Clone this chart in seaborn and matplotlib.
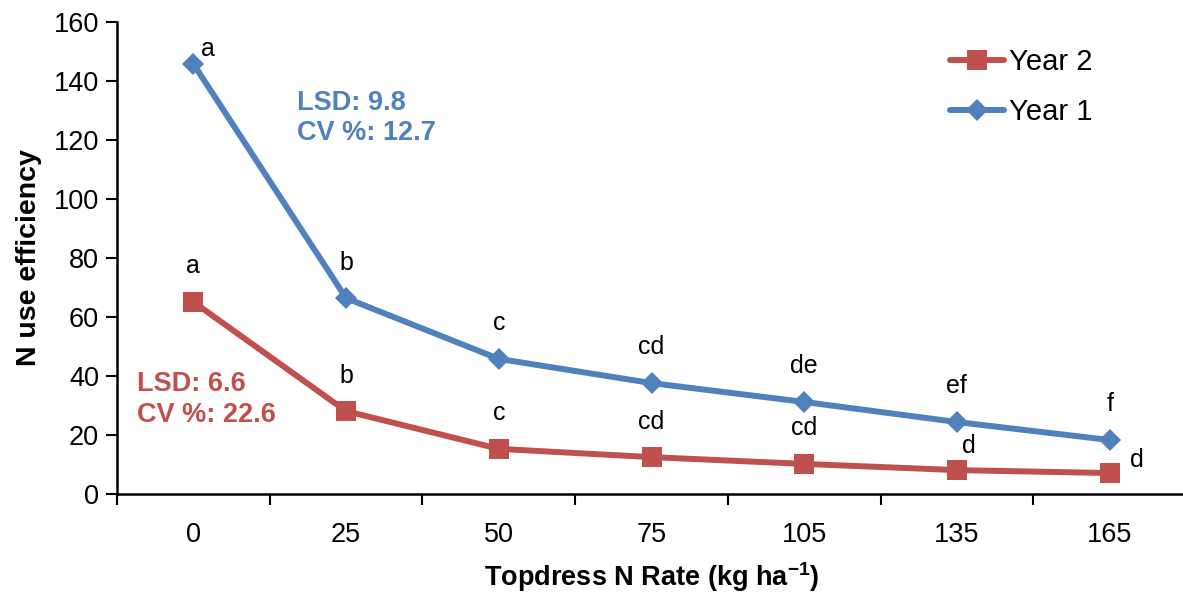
import matplotlib
matplotlib.use("Agg")
import matplotlib.pyplot as plt
import seaborn as sns
import pandas as pd
import numpy as np

rates = ["0", "25", "50", "75", "105", "135", "165"]
year1 = [145.8, 66.4, 45.8, 37.6, 31.2, 24.4, 18.3]
year2 = [65.1, 28.1, 15.3, 12.5, 10.2, 8.1, 7.1]
letters1 = ["a", "b", "c", "cd", "de", "ef", "f"]
letters2 = ["a", "b", "c", "cd", "cd", "d", "d"]

blue = "#4F81BD"
red = "#C0504D"

sns.set_style("white")
plt.rcParams['font.family'] = ['Liberation Sans', 'DejaVu Sans']
plt.rcParams['mathtext.fontset'] = 'custom'
plt.rcParams['mathtext.bf'] = 'Liberation Sans:bold'
plt.rcParams['mathtext.rm'] = 'Liberation Sans'
for k in ['text.color', 'axes.labelcolor', 'xtick.color', 'ytick.color']:
    plt.rcParams[k] = 'black'

df = pd.DataFrame({
    "rate": rates * 2,
    "nue": year2 + year1,
    "year": ["Year 2"] * 7 + ["Year 1"] * 7,
})
df["pos"] = list(range(7)) * 2

fig = plt.figure(figsize=(11.83, 5.92), dpi=100)
ax = fig.add_axes([117 / 1183, 98 / 592, 1069 / 1183, 472 / 592])

sns.lineplot(data=df, x="pos", y="nue", hue="year", style="year",
             hue_order=["Year 2", "Year 1"], style_order=["Year 2", "Year 1"],
             palette={"Year 2": red, "Year 1": blue},
             markers={"Year 2": "s", "Year 1": "D"}, dashes=False,
             linewidth=4.3, markersize=14, markeredgewidth=0, ax=ax)
for line in ax.lines:
    if line.get_marker() == "D":
        line.set_markersize(11.5)

ax.set_xlim(-0.5, 6.5)
ax.set_ylim(0, 160)
ax.set_yticks(np.arange(0, 161, 20))
ax.tick_params(axis="y", which="major", direction="out", length=8, width=1.5,
               labelsize=19.5, left=True, colors="black", pad=5)
ax.set_xticks(np.arange(-0.5, 6.6, 1.0))
ax.set_xticklabels([])
ax.set_xticks(np.arange(7), minor=True)
ax.set_xticklabels(rates, minor=True)
ax.tick_params(axis="x", which="major", direction="out", length=8, width=1.5,
               bottom=True, colors="black")
ax.tick_params(axis="x", which="minor", length=0, labelsize=19.5, pad=20,
               colors="black")

for s in ["top", "right"]:
    ax.spines[s].set_visible(False)
for s in ["left", "bottom"]:
    ax.spines[s].set_color("black")
    ax.spines[s].set_linewidth(1.8)

ax.set_ylabel("N use efficiency", fontsize=20.5, fontweight="bold", labelpad=8)
ax.set_xlabel("Topdress N Rate (kg ha$^{\\mathbf{-1}}$)", fontsize=19.5,
              fontweight="bold", labelpad=9)

fs = 18
for i, (v, t) in enumerate(zip(year1, letters1)):
    if i == 0:
        ax.text(i + 0.05, v + 1, t, fontsize=fs, ha="left", va="bottom")
    else:
        ax.text(i, v + 8, t, fontsize=fs, ha="center", va="bottom")
for i, (v, t) in enumerate(zip(year2, letters2)):
    if i == 5:
        ax.text(i + 0.08, v + 4, t, fontsize=fs, ha="center", va="bottom")
    elif i == 6:
        ax.text(i + 0.18, v + 0.5, t, fontsize=fs, ha="center", va="bottom")
    else:
        ax.text(i, v + 8, t, fontsize=fs, ha="center", va="bottom")

ax.text(0.68, 127.5, "LSD: 9.8\nCV %: 12.7", color=blue, fontsize=19.5,
        fontweight="bold", ha="left", va="center", linespacing=1.22)
ax.text(-0.37, 32, "LSD: 6.6\nCV %: 22.6", color=red, fontsize=19.5,
        fontweight="bold", ha="left", va="center", linespacing=1.22)

leg = ax.legend(loc="upper left", bbox_to_anchor=(0.755, 1.0), frameon=False,
                fontsize=21, handlelength=1.85, labelspacing=0.75,
                handletextpad=0.15)
for h in leg.legend_handles:
    h.set_linewidth(4.3)
for t in leg.get_texts():
    t.set_color("black")

fig.savefig("out.png", dpi=100)
